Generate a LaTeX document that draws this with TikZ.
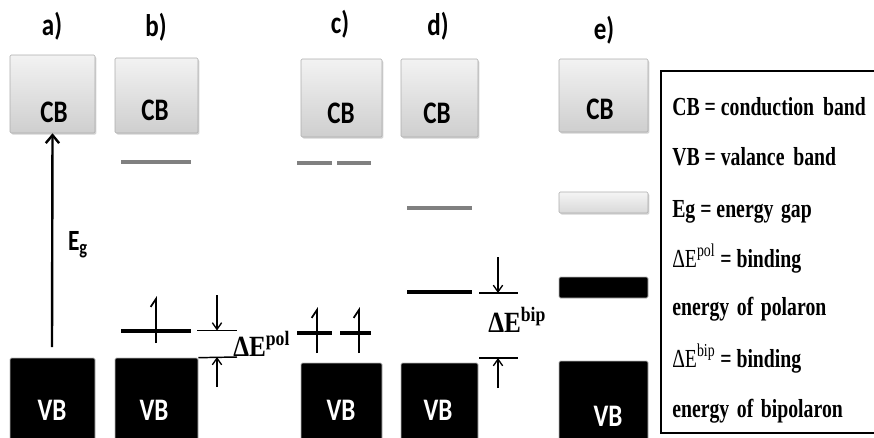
\documentclass[tikz,border=0pt]{standalone}
\usepackage{fontspec}
\setmainfont{Liberation Serif}
\newfontfamily\calfont[FakeStretch=0.8, BoldFont={Carlito Bold}]{Carlito}
\newfontfamily\serfont[FakeStretch=0.76]{Liberation Serif}
\newfontfamily\delfont[FakeStretch=0.86]{Liberation Serif}
\usetikzlibrary{arrows.meta,fit,shadows}
\tikzset{
  cbbox/.style={draw=gray!65, top color=gray!10, bottom color=gray!38, rounded corners=1pt, inner sep=0pt,
    drop shadow={shadow xshift=1pt, shadow yshift=-1.2pt, opacity=0.35}},
  vbbox/.style={fill=black, draw=gray!55, line width=0.5pt, rounded corners=1pt, inner sep=0pt},
  lightbar/.style={draw=gray!65, top color=gray!8, bottom color=gray!30, rounded corners=1pt, inner sep=0pt,
    drop shadow={shadow xshift=1pt, shadow yshift=-1.2pt, opacity=0.35}},
  bandlbl/.style={font=\calfont\bfseries\fontsize{23.5}{26}\selectfont, inner sep=0pt},
  panellbl/.style={font=\calfont\bfseries\fontsize{23.5}{26}\selectfont, inner sep=0pt},
  graylvl/.style={draw=gray, line width=3pt},
  blacklvl/.style={draw=black, line width=3pt},
  spinup/.style={line width=1.3pt, -{Straight Barb[left, length=6pt, width=8pt]}},
  egarrow/.style={line width=1.8pt, -{Straight Barb[length=6pt, width=10pt]}},
  gaparrow/.style={line width=1pt, -{Straight Barb[length=5pt, width=7pt]}},
  tickline/.style={line width=1.1pt},
  deltalbl/.style={font=\delfont\bfseries\fontsize{22}{24}\selectfont, anchor=base west, inner sep=0pt},
  legtxt/.style={font=\serfont\bfseries\fontsize{19.5}{22}\selectfont, anchor=base west, inner sep=0pt},
  legbox/.style={draw=black, line width=1.1pt, inner sep=0pt},
}
\begin{document}
\begin{tikzpicture}[x=0.75pt, y=-0.75pt]
\useasboundingbox (0,0) rectangle (874,437);
\clip (0,0) rectangle (874,437);

% panel labels
\node[panellbl] (la) at (52,26) {a)};
\node[panellbl] (lb) at (156,27) {b)};
\node[panellbl] (lc) at (340,24) {c)};
\node[panellbl] (ld) at (438,26) {d)};
\node[panellbl] (le) at (604,30) {e)};

% conduction bands
\node[cbbox, fit={(10,55) (95,133)}] (cbA) {};
\node[cbbox, fit={(115,58) (198,133)}] (cbB) {};
\node[cbbox, fit={(301,59) (382,137)}] (cbC) {};
\node[cbbox, fit={(401,59) (478,137)}] (cbD) {};
\node[cbbox, fit={(559,59) (648,132)}] (cbE) {};
\node[bandlbl] (tA) at (54,112) {CB};
\node[bandlbl] (tB) at (155,110) {CB};
\node[bandlbl] (tC) at (341,113) {CB};
\node[bandlbl] (tD) at (437,113) {CB};
\node[bandlbl] (tE) at (600,109) {CB};

% valence bands
\node[vbbox, fit={(10,358) (95,445)}] (vbA) {};
\node[vbbox, fit={(115,358) (198,445)}] (vbB) {};
\node[vbbox, fit={(301,363) (382,445)}] (vbC) {};
\node[vbbox, fit={(401,363) (478,445)}] (vbD) {};
\node[vbbox, fit={(559,361) (648,445)}] (vbE) {};
\node[bandlbl, text=white] (uA) at (52,410) {VB};
\node[bandlbl, text=white] (uB) at (154,410) {VB};
\node[bandlbl, text=white] (uC) at (341,410) {VB};
\node[bandlbl, text=white] (uD) at (438,410) {VB};
\node[bandlbl, text=white] (uE) at (608,416) {VB};

% a) energy gap
\coordinate (egfoot) at (52,347);
\draw[egarrow] (egfoot) -- (cbA.south);
\node[font=\calfont\bfseries\fontsize{22}{24}\selectfont, inner sep=0pt] (eg) at (78,245) {E\textsubscript{g}};

% b) polaron
\draw[graylvl] (121,162) -- (191,162);
\draw[blacklvl] (121,330.5) -- (191,330.5);
\draw[spinup] (156,343) -- (156,296);
\draw[tickline] (197,330.5) -- (237,330.5);
\draw[tickline] (vbB.north east) -- (237,357);
\coordinate (pdt) at (217,295);
\coordinate (pdb) at (217,330.5);
\coordinate (put) at (217,387);
\coordinate (pub) at (217,357);
\draw[gaparrow] (pdt) -- (pdb);
\draw[gaparrow] (put) -- (pub);
\node[deltalbl] (dpol) at (233,356) {ΔE\textsuperscript{pol}};

% c) two polarons
\draw[graylvl] (297,163) -- (332,163);
\draw[graylvl] (337,163) -- (371,163);
\draw[blacklvl] (297,333) -- (332,333);
\draw[blacklvl] (340,333) -- (371,333);
\draw[spinup] (317,353) -- (317,307);
\draw[spinup] (359,353) -- (359,307);

% d) bipolaron
\draw[graylvl] (407,208) -- (472,208);
\draw[blacklvl] (407,292) -- (472,292);
\draw[tickline] (479,293) -- (518,293);
\draw[tickline] (479,358) -- (518,358);
\coordinate (bdt) at (498,257);
\coordinate (bdb) at (498,293);
\coordinate (but) at (498,388);
\coordinate (bub) at (498,358);
\draw[gaparrow] (bdt) -- (bdb);
\draw[gaparrow] (but) -- (bub);
\node[deltalbl] (dbip) at (488,332) {ΔE\textsuperscript{bip}};

% e) bipolaron bands
\node[lightbar, fit={(559,192) (648,213)}] (eLight) {};
\node[vbbox, fit={(559,277) (648,298)}] (eDark) {};

% legend
\node[legbox, fit={(661,71) (890,433)}] (legend) {};
\node[legtxt] (l1) at (672,115) {CB = conduction\hspace{0.15em} band};
\node[legtxt] (l2) at (672,165) {VB = valance\hspace{0.15em} band};
\node[legtxt] (l3) at (672,217) {Eg = energy\hspace{0.1em} gap};
\node[legtxt] (l4) at (672,267) {\mdseries ΔE\textsuperscript{pol}\bfseries\ = binding};
\node[legtxt] (l5) at (672,315) {energy\hspace{0.1em} of\hspace{0.1em} polaron};
\node[legtxt] (l6) at (672,367) {\mdseries ΔE\textsuperscript{bip}\bfseries\ = binding};
\node[legtxt] (l7) at (672,417) {energy\hspace{0.1em} of\hspace{0.1em} bipolaron};
\end{tikzpicture}
\end{document}
